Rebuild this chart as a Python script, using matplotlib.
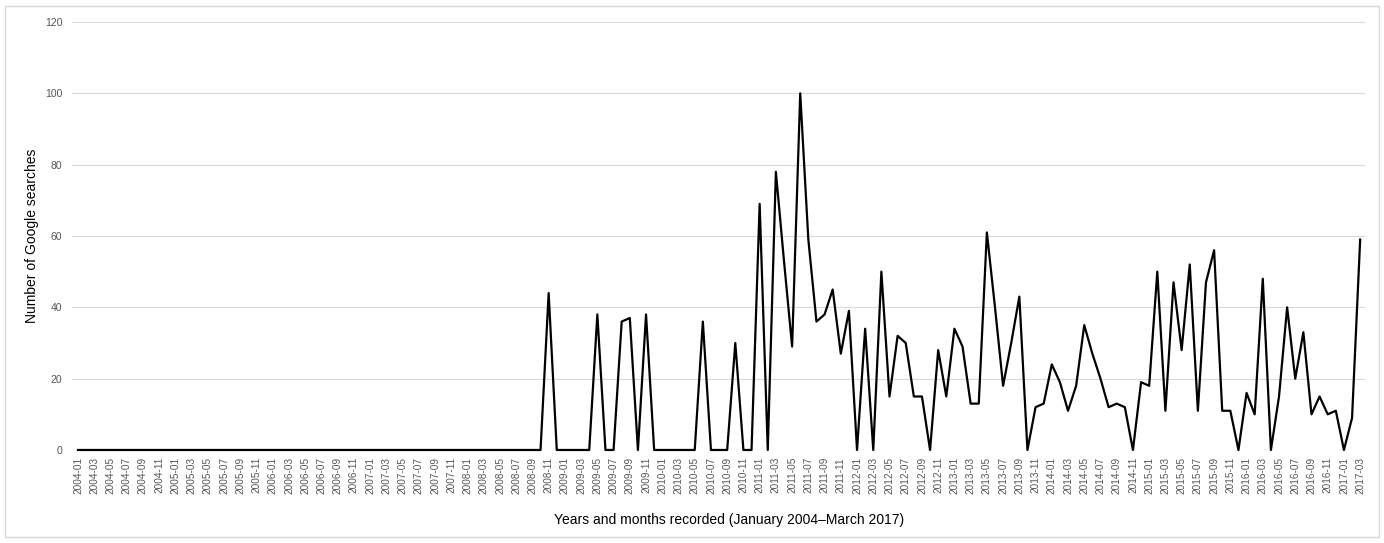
import matplotlib.pyplot as plt
from matplotlib.patches import Rectangle

plt.rcParams['font.family'] = ['Liberation Sans', 'DejaVu Sans']

# months recorded (January 2004 - March 2017)
months = []
for year in range(2004, 2018):
    for m in range(1, 13):
        if year == 2017 and m > 3:
            break
        months.append('%d-%02d' % (year, m))

# number of google searches per month
y2004 = [0, 0, 0, 0, 0, 0, 0, 0, 0, 0, 0, 0]
y2005 = [0, 0, 0, 0, 0, 0, 0, 0, 0, 0, 0, 0]
y2006 = [0, 0, 0, 0, 0, 0, 0, 0, 0, 0, 0, 0]
y2007 = [0, 0, 0, 0, 0, 0, 0, 0, 0, 0, 0, 0]
y2008 = [0, 0, 0, 0, 0, 0, 0, 0, 0, 0, 44, 0]
y2009 = [0, 0, 0, 0, 38, 0, 0, 36, 37, 0, 38, 0]
y2010 = [0, 0, 0, 0, 0, 36, 0, 0, 0, 30, 0, 0]
y2011 = [69, 0, 78, 53, 29, 100, 59, 36, 38, 45, 27, 39]
y2012 = [0, 34, 0, 50, 15, 32, 30, 15, 15, 0, 28, 15]
y2013 = [34, 29, 13, 13, 61, 40, 18, 30, 43, 0, 12, 13]
y2014 = [24, 19, 11, 18, 35, 27, 20, 12, 13, 12, 0, 19]
y2015 = [18, 50, 11, 47, 28, 52, 11, 47, 56, 11, 11, 0]
y2016 = [16, 10, 48, 0, 15, 40, 20, 33, 10, 15, 10, 11]
y2017 = [0, 9, 59]

searches = (y2004 + y2005 + y2006 + y2007 + y2008 + y2009 + y2010
            + y2011 + y2012 + y2013 + y2014 + y2015 + y2016 + y2017)
x = list(range(len(months)))

fig = plt.figure(figsize=(13.84, 5.43), dpi=100)
ax = fig.add_axes([0.052, 0.1713, 0.9343, 0.7882])

# outer frame
fig.patches.append(Rectangle((5 / 1384, 6 / 543), 1374 / 1384, 531 / 543,
                             transform=fig.transFigure, fill=False,
                             edgecolor='#d9d9d9', linewidth=1))

ax.plot(x, searches, color='black', linewidth=1.6, clip_on=False, zorder=3)

ax.set_xlim(-0.74, 158.6)
ax.set_ylim(0, 120)
ax.set_yticks(range(0, 121, 20))
ax.set_xticks(x[::2])
ax.set_xticklabels(months[::2], rotation=90, fontsize=7.2, color='#555555')
ax.tick_params(axis='y', labelsize=7.5, labelcolor='#555555', pad=7)
ax.tick_params(axis='x', length=0, pad=5)
ax.tick_params(axis='y', length=0)

ax.grid(axis='y', color='#d9d9d9', linewidth=0.8)
ax.set_axisbelow(True)
for s in ax.spines.values():
    s.set_visible(False)

ax.set_xlabel('Years and months recorded (January 2004\u2013March 2017)', fontsize=10, labelpad=14)
ax.xaxis.label.set_x(0.5085)
ax.set_ylabel('Number of Google searches', fontsize=10, labelpad=4)

plt.savefig('out.png', dpi=100)
